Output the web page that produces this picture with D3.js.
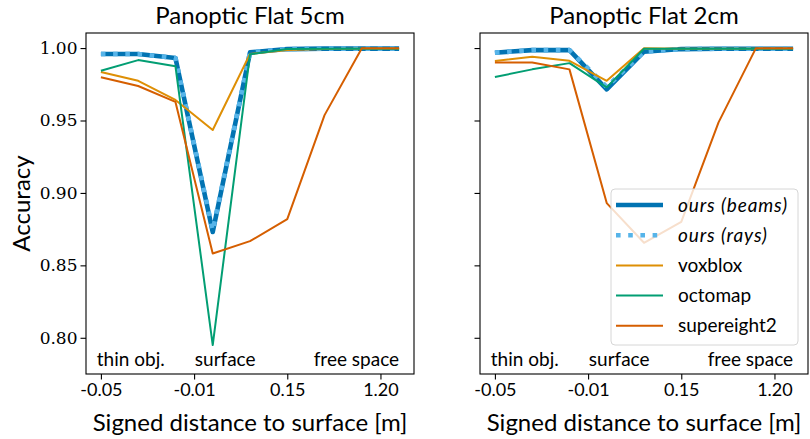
<!DOCTYPE html>
<html>
<head>
<meta charset="utf-8">
<script src="https://d3js.org/d3.v7.min.js"></script>
<style>
    body { margin: 0; background: #fff; }
    text { font-family: Lato, "DejaVu Sans", sans-serif; fill: #000; }
    .ytick text { font-family: "DejaVu Serif", serif; }
</style>
</head>
<body>
<div id="container"></div>
<script>

var W = 810, H = 439;

//  data

var steps = [0, 1, 2, 3, 4, 5, 6, 7, 8];

var tickPos = [0, 2.5, 5, 7.5];

var tickLabels = ["-0.05", "-0.01", "0.15", "1.20"];

var yTicks = [0.80, 0.85, 0.90, 0.95, 1.00];

var seriesNames = ["ours (beams)", "ours (rays)", "voxblox", "octomap", "supereight2"];

var panelTitles = ["Panoptic Flat 5cm", "Panoptic Flat 2cm"];

var flat5Beams    = [0.9959, 0.9959, 0.9931, 0.873, 0.997, 0.9993, 0.9996, 0.9996, 0.9996];
var flat5Rays     = [0.9959, 0.9959, 0.9931, 0.874, 0.997, 0.9993, 0.9996, 0.9996, 0.9996];
var flat5Voxblox  = [0.9835, 0.9774, 0.9642, 0.9434, 0.9959, 0.9986, 0.9993, 0.9995, 0.9995];
var flat5Octomap  = [0.9843, 0.9917, 0.9874, 0.795, 0.9957, 0.9993, 0.9995, 0.9995, 0.9995];
var flat5Se2      = [0.9799, 0.9738, 0.9628, 0.8582, 0.8667, 0.8819, 0.9537, 0.9998, 0.9998];

var flat2Beams    = [0.9968, 0.9986, 0.9986, 0.9715, 0.9975, 0.9993, 0.9995, 0.9995, 0.9995];
var flat2Rays     = [0.9968, 0.9986, 0.9986, 0.9732, 0.9975, 0.9993, 0.9995, 0.9995, 0.9995];
var flat2Voxblox  = [0.991, 0.994, 0.9912, 0.9774, 0.9998, 0.9995, 0.9995, 0.9995, 0.9995];
var flat2Octomap  = [0.980, 0.9853, 0.9896, 0.9729, 0.9995, 0.9995, 0.9995, 0.9995, 0.9995];
var flat2Se2      = [0.9901, 0.9901, 0.9853, 0.893, 0.8656, 0.880, 0.9487, 0.9998, 0.9998];

var panelData = [
    [flat5Beams, flat5Rays, flat5Voxblox, flat5Octomap, flat5Se2],
    [flat2Beams, flat2Rays, flat2Voxblox, flat2Octomap, flat2Se2]
];

//  styles

var colors = ["#0173B2", "#56B4E9", "#DE8F05", "#029E73", "#D55E00"];
var widths = [4.6, 4.6, 2, 2, 2];
var dashes = [null, "4.6,7.6", null, null, null];

var panelLeft = [86, 480];
var panelW = 328;
var plotTop = 33, plotBottom = 374;

var y = d3.scaleLinear()
    .domain([0.775, 1.0104])
    .range([plotBottom, plotTop]);

var svg = d3.select("#container")
    .append("svg")
    .attr("width", W)
    .attr("height", H);

svg.append("rect").attr("width", W).attr("height", H).attr("fill", "#fff");

var line = d3.line();

panelData.forEach(function(series, p) {

    var x = d3.scaleLinear()
        .domain([-0.4, 8.4])
        .range([panelLeft[p], panelLeft[p] + panelW]);

    var g = svg.append("g");

    g.append("clipPath")
        .attr("id", "clip" + p)
        .append("rect")
        .attr("x", panelLeft[p])
        .attr("y", plotTop)
        .attr("width", panelW)
        .attr("height", plotBottom - plotTop);

    var plot = g.append("g").attr("clip-path", "url(#clip" + p + ")");

    series.forEach(function(vals, s) {

        plot.append("path")
            .attr("d", line(steps.map(function(d, i) { return [x(d), y(vals[i])]; })))
            .attr("fill", "none")
            .attr("stroke", colors[s])
            .attr("stroke-width", widths[s])
            .attr("stroke-dasharray", dashes[s])
            .attr("stroke-linejoin", "round");

    });

    //  region labels inside the axes

    g.append("text").attr("x", x(-0.11)).attr("y", y(0.7806)).attr("font-size", 19).text("thin obj.");
    g.append("text").attr("x", x(2.52)).attr("y", y(0.7806)).attr("font-size", 19).text("surface");
    g.append("text").attr("x", x(8.0)).attr("y", y(0.7806)).attr("font-size", 19)
        .attr("text-anchor", "end").text("free space");

    //  axes

    var xAxis = g.append("g")
        .attr("transform", "translate(0," + plotBottom + ")")
        .call(d3.axisBottom(x).tickValues(tickPos).tickSize(5.5).tickPadding(4)
            .tickFormat(function(d, i) { return tickLabels[i]; }).tickSizeOuter(0));

    xAxis.select(".domain").remove();
    xAxis.selectAll("line").attr("stroke", "#000").attr("stroke-width", 1.1);
    xAxis.selectAll("text").attr("font-size", 18).attr("font-family", "Lato").attr("fill", "#000");

    var yAxis = g.append("g")
        .attr("class", "ytick")
        .attr("transform", "translate(" + panelLeft[p] + ",0)")
        .call(d3.axisLeft(y).tickValues(yTicks).tickSize(5.5).tickPadding(3)
            .tickFormat(p == 0 ? d3.format(".2f") : function() { return ""; }).tickSizeOuter(0));

    yAxis.select(".domain").remove();
    yAxis.selectAll("line").attr("stroke", "#000").attr("stroke-width", 1.1);
    yAxis.selectAll("text").attr("font-size", 17).attr("fill", "#000");

    g.append("rect")
        .attr("x", panelLeft[p])
        .attr("y", plotTop)
        .attr("width", panelW)
        .attr("height", plotBottom - plotTop)
        .attr("fill", "none")
        .attr("stroke", "#000")
        .attr("stroke-width", 1.1);

    g.append("text")
        .attr("x", panelLeft[p] + panelW / 2)
        .attr("y", 24)
        .attr("text-anchor", "middle")
        .attr("font-size", 24)
        .text(panelTitles[p]);

    g.append("text")
        .attr("x", panelLeft[p] + panelW / 2)
        .attr("y", 431)
        .attr("text-anchor", "middle")
        .attr("font-size", 24)
        .text("Signed distance to surface [m]");

});

svg.append("text")
    .attr("transform", "translate(30," + (plotTop + plotBottom) / 2 + ") rotate(-90)")
    .attr("text-anchor", "middle")
    .attr("font-size", 24)
    .text("Accuracy");

//  legend (right panel)

var legend = svg.append("g").attr("transform", "translate(611,189)");

legend.append("rect")
    .attr("width", 187)
    .attr("height", 156)
    .attr("rx", 4)
    .attr("fill", "#fff")
    .attr("fill-opacity", 0.8)
    .attr("stroke", "#d6d6d6")
    .attr("stroke-width", 1);

seriesNames.forEach(function(name, s) {

    var ly = 16 + s * 30.2;

    legend.append("line")
        .attr("x1", 5)
        .attr("x2", 52)
        .attr("y1", ly)
        .attr("y2", ly)
        .attr("stroke", colors[s])
        .attr("stroke-width", widths[s])
        .attr("stroke-dasharray", dashes[s]);

    legend.append("text")
        .attr("x", 67)
        .attr("y", ly + 6.5)
        .attr("font-size", 19)
        .attr("font-style", s < 2 ? "italic" : "normal")
        .attr("letter-spacing", s < 2 ? 0.9 : 0)
        .text(name);

});

</script>
</body>
</html>
